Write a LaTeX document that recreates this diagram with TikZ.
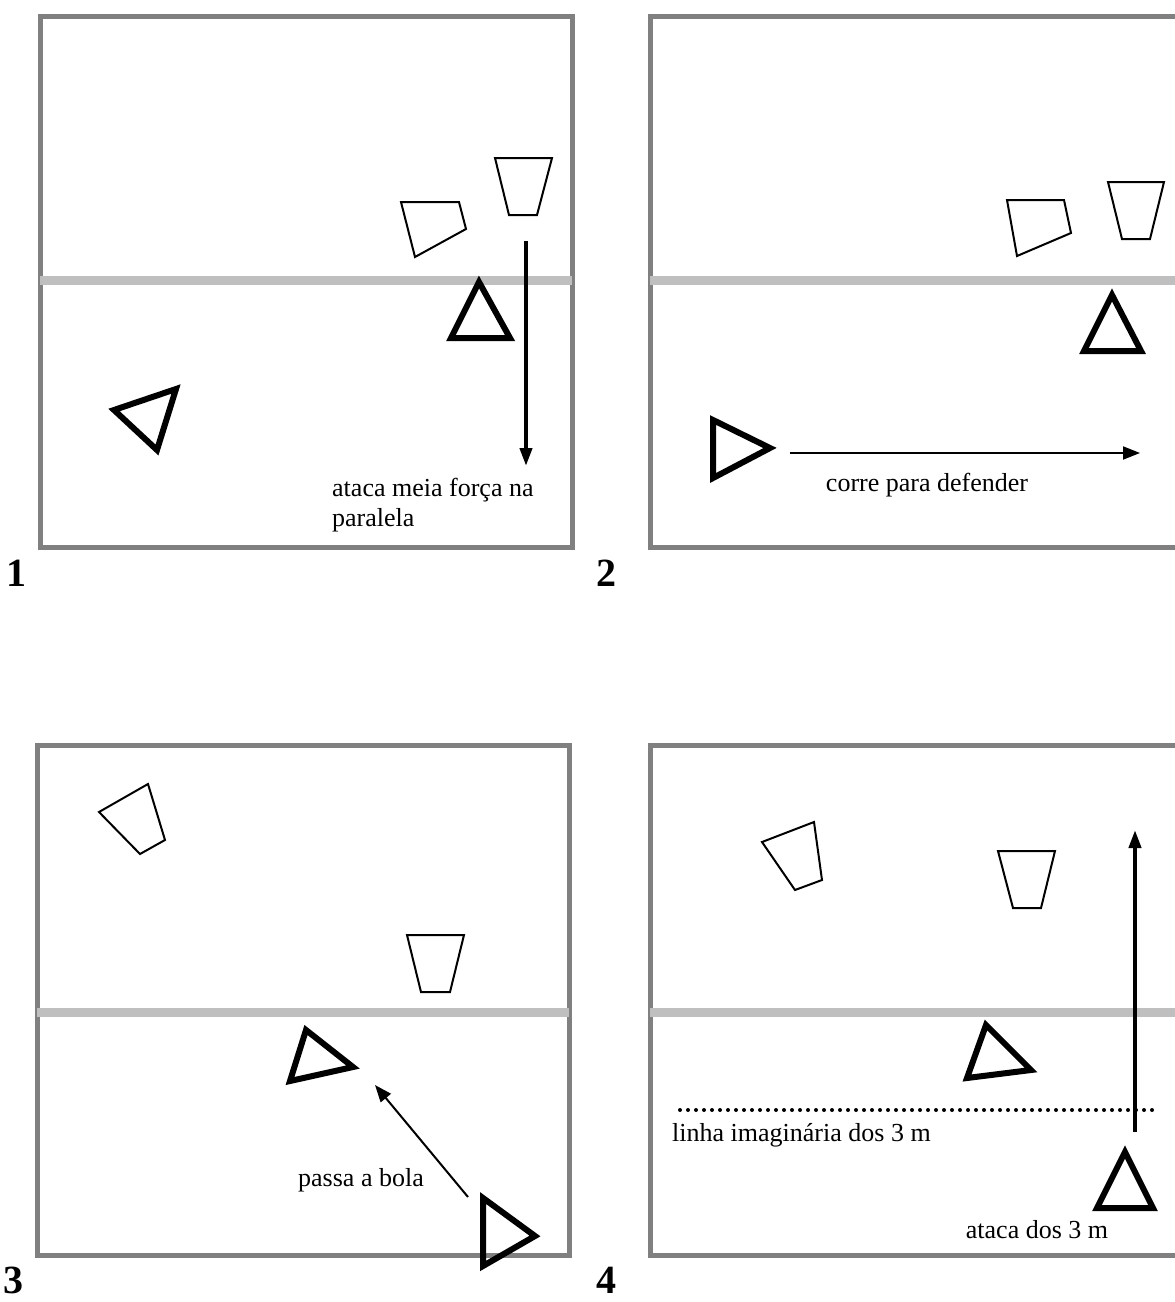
\documentclass[tikz,border=0pt]{standalone}
\usepackage{fontspec}
\setmainfont{Liberation Serif}
\usetikzlibrary{arrows.meta}
\begin{document}
\begin{tikzpicture}[x=1pt,y=-1pt,
  court/.style={draw=black!50,line width=5pt},
  net/.style={draw=black!25,line width=9pt},
  cone/.style={draw=black,line width=2pt,line join=miter},
  player/.style={draw=black,line width=6pt,line join=miter},
  bigarrow/.style={draw=black,line width=4pt,-{Triangle[length=18pt,width=12pt]}},
  thinarrow/.style={draw=black,line width=2pt,-{Triangle[length=17pt,width=13pt]}},
  lbl/.style={font=\fontsize{26}{30}\selectfont,inner sep=0pt},
  num/.style={font=\fontsize{40}{44}\selectfont\bfseries,inner sep=0pt}]
\clip (0,0) rectangle (1175,1302);
\fill[white] (0,0) rectangle (1175,1302);
% ---------- panel 1
\draw[court] (40,16) rectangle (572,547);
\draw[net] (40,280) -- (572,280);
\draw[cone] (495,158) -- (552,158) -- (537,215) -- (509,215) -- cycle;
\draw[cone] (401,202) -- (459,202) -- (466,229) -- (415,257) -- cycle;
\draw[player] (479,282) -- (510,338) -- (451,338) -- cycle;
\draw[player] (114,410) -- (176,389) -- (157,450) -- cycle;
\coordinate (a1s) at (526,241);
\coordinate (a1e) at (526,466);
\draw[bigarrow] (a1s) -- (a1e);
\node[lbl,anchor=north west,align=left] (t1) at (332,478) {ataca meia força na\\paralela};
\node[num] (n1) at (16,573) {1};
% ---------- panel 2
\draw[court] (650,16) rectangle (1195,547);
\draw[net] (650,280) -- (1195,280);
\draw[cone] (1007,200) -- (1064,200) -- (1071,233) -- (1017,256) -- cycle;
\draw[cone] (1108,182) -- (1164,182) -- (1150,239) -- (1122,239) -- cycle;
\draw[player] (1112,295) -- (1141,351) -- (1084,351) -- cycle;
\draw[player] (713,420) -- (770,448) -- (713,478) -- cycle;
\coordinate (a2s) at (790,453);
\coordinate (a2e) at (1140,453);
\draw[thinarrow] (a2s) -- (a2e);
\node[lbl] (t2) at (927,485) {corre para defender};
\node[num] (n2) at (606,573) {2};
% ---------- panel 3
\draw[court] (37,745) rectangle (569,1255);
\draw[net] (37,1012) -- (569,1012);
\draw[cone] (99,812) -- (148,784) -- (165,840) -- (140,854) -- cycle;
\draw[cone] (407,935) -- (464,935) -- (450,992) -- (421,992) -- cycle;
\draw[player] (306,1030) -- (353,1067) -- (290,1081) -- cycle;
\draw[player] (483,1198) -- (535,1236) -- (483,1266) -- cycle;
\coordinate (a3s) at (468,1197);
\coordinate (a3e) at (375,1085);
\draw[thinarrow] (a3s) -- (a3e);
\node[lbl] (t3) at (361,1180) {passa a bola};
\node[num] (n3) at (14,1280) {3};
% ---------- panel 4
\draw[court] (650,745) rectangle (1195,1255);
\draw[net] (650,1012) -- (1195,1012);
\draw[cone] (762,842) -- (814,822) -- (822,880) -- (795,890) -- cycle;
\draw[cone] (998,851) -- (1055,851) -- (1041,908) -- (1013,908) -- cycle;
\draw[player] (986,1025) -- (1031,1070) -- (967,1078) -- cycle;
\draw[player] (1125,1152) -- (1153,1208) -- (1097,1208) -- cycle;
\draw[line width=4pt,line cap=round,dash pattern=on 0pt off 8pt] (680,1110) -- (1155,1110);
\coordinate (a4s) at (1135,1132);
\coordinate (a4e) at (1135,830);
\draw[bigarrow] (a4s) -- (a4e);
\node[lbl,anchor=west] (t4) at (672,1135) {linha imaginária dos 3 m};
\node[lbl] (t5) at (1037,1230) {ataca dos 3 m};
\node[num] (n4) at (606,1280) {4};
\end{tikzpicture}
\end{document}
